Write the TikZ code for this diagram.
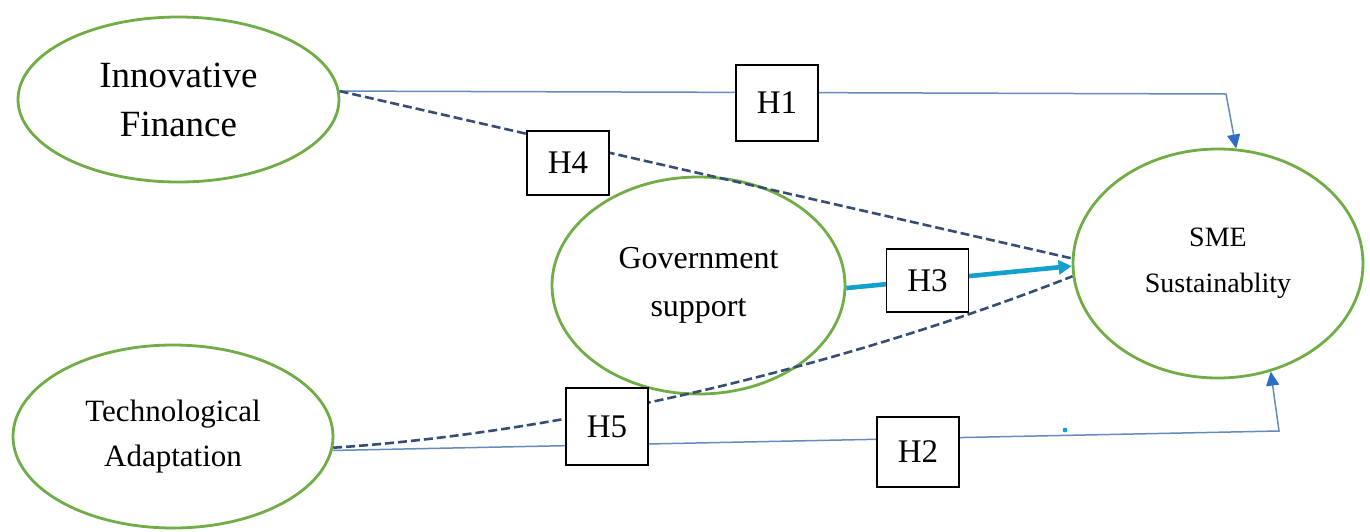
\documentclass[tikz,border=0pt]{standalone}
\usepackage{fontspec}
\setmainfont{Liberation Serif}
\usetikzlibrary{shapes.geometric,arrows.meta}
\definecolor{ellgreen}{RGB}{112,173,71}
\definecolor{pathblue}{RGB}{100,138,190}
\definecolor{tipblue}{RGB}{45,110,195}
\definecolor{dashblue}{RGB}{55,78,115}
\definecolor{hcyan}{RGB}{18,160,205}
\tikzset{
  construct/.style={ellipse, draw=ellgreen, line width=1.4pt, inner sep=0pt, align=center, text=black},
  hbox/.style={draw=black, line width=0.8pt, fill=white, minimum width=41pt, inner sep=0pt,
    font=\fontsize{16.5}{18}\selectfont},
  direct/.style={draw=pathblue, line width=0.75pt,
    -{Triangle[length=7pt,width=6.5pt,color=tipblue]}},
  mediated/.style={draw=dashblue, line width=1.3pt, dash pattern=on 4.5pt off 2pt},
  moderated/.style={draw=hcyan, line width=2.3pt,
    -{Triangle[length=6.5pt,width=7pt,color=hcyan]}},
}
\begin{document}
\begin{tikzpicture}[x=0.5pt,y=-0.5pt]
\useasboundingbox (0,0) rectangle (1370,531);
% constructs
\node[construct, minimum width=160.5pt, minimum height=82.5pt,
  font=\fontsize{18.5}{24.5}\selectfont] (IF) at (178.5,99.5) {Innovative\\Finance};
\node[construct, minimum width=160pt, minimum height=91.5pt,
  font=\fontsize{15.5}{22.5}\selectfont] (TA) at (173,436.5) {Technological\\Adaptation};
\node[construct, minimum width=146.5pt, minimum height=108.5pt,
  font=\fontsize{16}{24}\selectfont] (GS) at (698.5,285.5) {Government\\support};
\node[construct, minimum width=145pt, minimum height=114.5pt,
  font=\fontsize{14}{23}\selectfont] (SME) at (1218,263.5) {SME\\Sustainablity};
% corners
\coordinate (c1) at (1226,94);
\coordinate (c2) at (1279,431);
% paths
\draw[direct] (IF.3) -- (c1) -- (SME.81);
\draw[direct] (TA.-5.5) -- (c2) -- (SME.-64);
\draw[mediated] (IF.3) -- (SME.178.6);
\draw[mediated] (TA.-4) .. controls (600,430) and (880,352) .. (SME.185);
\draw[moderated] (GS.-1) -- (SME.181.4);
\fill[hcyan] (1065,430) circle (1.2pt);
% hypothesis boxes
\node[hbox, minimum height=38pt] (H1) at (777,103) {H1};
\node[hbox, minimum height=32pt] (H4) at (568,163) {H4};
\node[hbox, minimum height=31.5pt] (H3) at (927.5,280.5) {H3};
\node[hbox, minimum height=38.5pt] (H5) at (607,426.5) {H5};
\node[hbox, minimum height=35pt] (H2) at (918,452) {H2};
\end{tikzpicture}
\end{document}
